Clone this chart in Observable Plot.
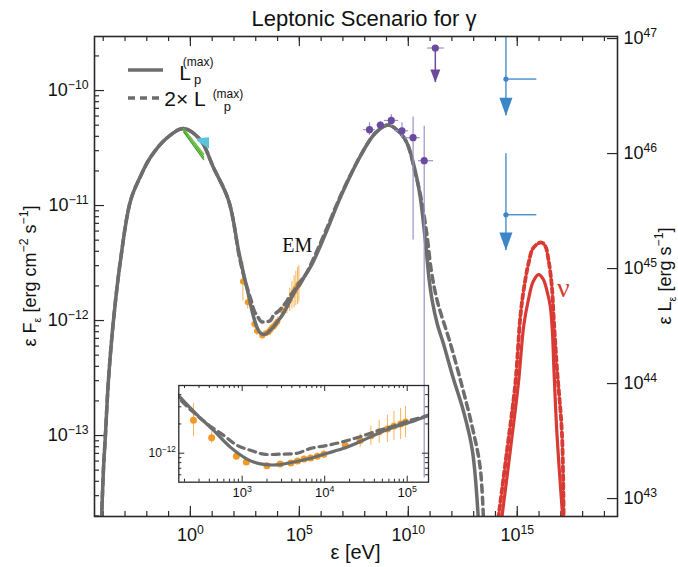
<!DOCTYPE html>
<html><head><meta charset="utf-8">
<script src="https://cdn.jsdelivr.net/npm/d3@7"></script>
<script src="https://cdn.jsdelivr.net/npm/@observablehq/plot@0.6"></script>
<style>body{margin:0;background:#fff}</style>
</head><body><div id="chart"></div>
<script>
// ---------- DATA (log10 values) ----------
// EM cascade model, L_p^(max) (solid): log10 ε [eV], log10 εFε [erg cm^-2 s^-1]
const emLogE = [-4.10,-3.99,-3.90,-3.76,-3.53,-3.21,-2.75,-2.30,-1.83,-1.06,-0.32,0.46,1.06,1.76,2.22,2.46,2.66,2.86,3.06,3.22,3.42,3.63,3.79,4.03,4.23,4.43,4.64,4.84,5.04,5.26,5.58,6.19,6.88,7.80,8.49,9.08,9.63,9.95,10.32,10.55,10.78,10.96,11.10,11.33,11.61,12.06,12.52,12.94,13.25];
const emLogF = [-13.85,-13.30,-13.00,-12.52,-12.00,-11.48,-10.96,-10.75,-10.58,-10.41,-10.33,-10.43,-10.67,-10.96,-11.40,-11.61,-11.77,-11.94,-12.06,-12.11,-12.12,-12.09,-12.06,-12.00,-11.95,-11.88,-11.80,-11.73,-11.68,-11.61,-11.51,-11.25,-10.93,-10.57,-10.37,-10.30,-10.37,-10.46,-10.70,-10.93,-11.30,-11.65,-11.83,-12.03,-12.20,-12.50,-12.78,-13.13,-13.85];
// EM cascade model, 2× L_p^(max) (dashed)
const em2LogE = [-4.10,-3.99,-3.90,-3.76,-3.53,-3.21,-2.75,-2.30,-1.83,-1.06,-0.32,0.46,1.06,1.76,2.25,2.41,2.58,2.78,2.94,3.10,3.26,3.46,3.67,3.83,4.03,4.23,4.43,4.64,4.84,5.04,5.26,5.58,6.19,6.88,7.80,8.49,9.08,9.63,9.95,10.32,10.55,10.83,11.06,11.33,11.93,12.48,12.94,13.30,13.47];
const em2LogF = [-13.85,-13.30,-13.00,-12.52,-12.00,-11.48,-10.96,-10.75,-10.58,-10.41,-10.33,-10.43,-10.67,-10.96,-11.45,-11.58,-11.70,-11.82,-11.92,-11.97,-12.01,-12.01,-12.00,-11.95,-11.92,-11.88,-11.83,-11.77,-11.72,-11.66,-11.61,-11.49,-11.23,-10.92,-10.57,-10.37,-10.30,-10.37,-10.46,-10.72,-10.90,-11.22,-11.57,-11.83,-12.20,-12.58,-12.93,-13.28,-13.85];
// neutrino spectra
const nuLogE = [14.29,14.68,15.05,15.30,15.50,15.73,15.98,16.19,16.36,16.51,16.61,16.68,16.82,17.09];
const nuLogF = [-13.72,-13.13,-12.55,-12.04,-11.83,-11.66,-11.60,-11.64,-11.74,-11.87,-12.09,-12.41,-12.98,-13.72];
const nu2LogE = [14.13,14.53,14.91,15.14,15.29,15.52,15.73,16.09,16.28,16.44,16.59,16.67,16.82,17.05,17.13];
const nu2LogF = [-13.72,-13.13,-12.55,-11.97,-11.74,-11.50,-11.37,-11.32,-11.35,-11.48,-11.71,-11.97,-12.41,-12.98,-13.72];
// X-ray data (orange)
const xrayLogE = [2.41,2.63,2.93,3.05,3.30,3.46,3.59,3.67,3.75,3.83,3.91,3.99,4.25,4.43,4.56,4.66,4.76,4.84,4.92,4.98];
const xrayLogF = [-11.66,-11.84,-12.03,-12.09,-12.13,-12.11,-12.10,-12.08,-12.06,-12.05,-12.03,-12.01,-11.92,-11.87,-11.82,-11.78,-11.75,-11.72,-11.70,-11.68];
const xrayErr  = [0.17,0.06,0.04,0.04,0.02,0.02,0.02,0.02,0.03,0.03,0.03,0.04,0.05,0.07,0.10,0.12,0.14,0.15,0.16,0.16];
// gamma-ray data (purple)
const latLogE = [8.22,8.72,9.22,9.71,10.22,10.73];
const latLogF = [-10.34,-10.30,-10.26,-10.35,-10.41,-10.61];
const latElo  = [7.94,8.56,8.90,9.40,9.86,10.47];
const latEhi  = [8.49,8.94,9.56,10.01,10.55,11.16];
const latFlo  = [-10.39,-10.33,-10.31,-10.41,-11.30,-13.37];
const latFhi  = [-10.28,-10.27,-10.21,-10.28,-10.23,-10.31];
const ulLogE = [11.24], ulLogF = [-9.63], ulElo = [10.89], ulEhi = [11.65], ulTip = [-9.93];
// blue upper limits (solid, dashed)
const blueLogE = [14.48,14.48], blueLogF = [-9.90,-11.08], blueEhi = [15.90,15.90];
const blueTop = [-9.40,-10.55], blueTip = [-10.22,-11.39];
// optical / UV
const optLogE = [-0.31,0.61];
const optLines = [[-10.33,-10.55],[-10.34,-10.58],[-10.35,-10.56],[-10.36,-10.60]];
const uvLogE = [0.33,0.88], uvLo = [-10.44,-10.51], uvHi = [-10.42,-10.41];
// tick exponents
const xMajor = [0,5,10,15];
const xDecades = d3.range(-4,20);
const yMajor = [-13,-12,-11,-10];
const rMajor = [43,44,45,46,47];
const R_OFFSET = 56.548; // log10(εLε) - log10(εFε)
const insetXMajor = [3,4,5];
const insetYMajor = [-12];
const labels = [{e:4.90,f:-11.35,t:"EM"}];
const nuLabel = [{e:17.11,f:-11.72,t:"ν"}];

// ---------- helpers ----------
const P = v => 10 ** v;
const FONT = "'Liberation Sans', Arial, Helvetica, sans-serif";
const SERIF = "'Liberation Serif', 'Times New Roman', serif";
const GRAY="#6d6d6d", RED="#d83a34", ORANGE="#f39a26", ORANGE_L="#f6b35c",
      PURPLE="#6a4b9d", PURPLE_L="#9e8fcb", BLUE="#3a86c8", FR="#2a2a2a";
const pts = (E,F) => E.map((e,i)=>({x:P(e), y:P(F[i])}));
const arrowSym = (w,h) => ({draw(ctx){ctx.moveTo(-w/2,-h);ctx.lineTo(w/2,-h);ctx.lineTo(0,0);ctx.closePath();}});
const expFmt = d => "10^" + Math.round(Math.log10(d));

const em = pts(emLogE, emLogF), em2 = pts(em2LogE, em2LogF);
const nu = pts(nuLogE, nuLogF), nu2 = pts(nu2LogE, nu2LogF);
const xray = xrayLogE.map((e,i)=>({x:P(e), y:P(xrayLogF[i]), y1:P(xrayLogF[i]-xrayErr[i]), y2:P(xrayLogF[i]+xrayErr[i])}));
const lat = latLogE.map((e,i)=>({x:P(e), y:P(latLogF[i]), x1:P(latElo[i]), x2:P(latEhi[i]), y1:P(latFlo[i]), y2:P(latFhi[i])}));
const ul = ulLogE.map((e,i)=>({x:P(e), y:P(ulLogF[i]), x1:P(ulElo[i]), x2:P(ulEhi[i]), tip:P(ulTip[i])}));
const blue = blueLogE.map((e,i)=>({x:P(e), y:P(blueLogF[i]), x2:P(blueEhi[i]), top:P(blueTop[i]), tip:P(blueTip[i]), dashed:i===1}));
const opt = optLines.flatMap((l,k)=>optLogE.map((e,i)=>({x:P(e), y:P(l[i]), k})));
const uv = uvLogE.map((e,i)=>({x:P(e), y1:P(uvLo[i]), y2:P(uvHi[i])}));

const W=678, H=567, mL=94, mR=61, mT=36, mB=51;
const FW=W-mL-mR, FH=H-mT-mB;
const yMinor = d3.range(-14,-9).flatMap(d=>d3.range(2,10).map(k=>k*P(d))).filter(v=>v>P(-13.704)&&v<P(-9.53));

const main = Plot.plot({
  width:W, height:H, marginLeft:mL, marginRight:mR, marginTop:mT, marginBottom:mB,
  style:{fontFamily:FONT, fontSize:"18px", background:"white", color:"#111"},
  x:{type:"log", domain:[P(-4.4),P(19.6)], axis:null},
  y:{type:"log", domain:[P(-13.704),P(-9.53)], axis:null},
  marks:[
    // ticks (inward)
    Plot.tickX(xDecades.map(P), {x:d=>d, insetTop:FH-5, stroke:FR, strokeWidth:1.2}),
    Plot.tickX(xDecades.map(P), {x:d=>d, insetBottom:FH-5, stroke:FR, strokeWidth:1.2}),
    Plot.tickX(xMajor.map(P), {x:d=>d, insetTop:FH-10, stroke:FR, strokeWidth:1.2}),
    Plot.tickX(xMajor.map(P), {x:d=>d, insetBottom:FH-10, stroke:FR, strokeWidth:1.2}),
    Plot.tickY(yMinor, {y:d=>d, insetRight:FW-5, stroke:FR, strokeWidth:1.2}),
    Plot.tickY(yMajor.map(P), {y:d=>d, insetRight:FW-10, stroke:FR, strokeWidth:1.2}),
    Plot.tickY(rMajor.map(e=>P(e-R_OFFSET)), {y:d=>d, insetLeft:FW-10, stroke:FR, strokeWidth:1.2}),
    Plot.axisX({ticks:xMajor.map(P), tickSize:0, tickPadding:12, tickFormat:expFmt, label:null}),
    Plot.axisY({anchor:"left", ticks:yMajor.map(P), tickSize:0, tickPadding:6, tickFormat:expFmt, label:null}),
    Plot.text(rMajor, {y:e=>P(e-R_OFFSET), text:e=>"10^"+e, frameAnchor:"right", textAnchor:"start", dx:6, fill:"#111"}),
    // X-ray data
    Plot.ruleX(xray, {x:"x", y1:"y1", y2:"y2", stroke:ORANGE_L, strokeWidth:1}),
    Plot.dot(xray, {x:"x", y:"y", r:3, fill:ORANGE}),
    // models
    Plot.line(em2, {x:"x", y:"y", stroke:GRAY, strokeWidth:3.5, strokeDasharray:"7,5", curve:"catmull-rom", clip:true}),
    Plot.line(em, {x:"x", y:"y", stroke:GRAY, strokeWidth:3.5, curve:"catmull-rom", clip:true}),
    Plot.line(nu2, {x:"x", y:"y", stroke:RED, strokeWidth:3.8, strokeDasharray:"5,3.5", curve:"catmull-rom", clip:true}),
    Plot.line(nu, {x:"x", y:"y", stroke:RED, strokeWidth:3.2, curve:"catmull-rom", clip:true}),
    // optical / UV
    Plot.areaY(uv, {x:"x", y1:"y1", y2:"y2", fill:"#5cc3dc"}),
    Plot.line(opt, {x:"x", y:"y", z:"k", stroke:d=>d.k%2?"#3f9a22":"#6cc040", strokeWidth:1.2}),
    // gamma-ray data
    Plot.ruleX(lat, {x:"x", y1:"y1", y2:"y2", stroke:PURPLE_L, strokeWidth:1.2, clip:true}),
    Plot.ruleY(lat, {y:"y", x1:"x1", x2:"x2", stroke:PURPLE_L, strokeWidth:1.2}),
    Plot.dot(lat, {x:"x", y:"y", r:3.6, fill:PURPLE}),
    Plot.ruleY(ul, {y:"y", x1:"x1", x2:"x2", stroke:PURPLE_L, strokeWidth:1.2}),
    Plot.ruleX(ul, {x:"x", y1:"y", y2:"tip", stroke:PURPLE, strokeWidth:1.5}),
    Plot.dot(ul, {x:"x", y:"y", r:3.6, fill:PURPLE}),
    Plot.dot(ul, {x:"x", y:"tip", symbol:arrowSym(10,13), fill:PURPLE, stroke:"none"}),
    // blue upper limits
    Plot.ruleX(blue, {x:"x", y1:"top", y2:"tip", stroke:BLUE, strokeWidth:1.3, strokeDasharray:d=>d.dashed?"7,6":null, clip:true}),
    Plot.ruleY(blue, {y:"y", x1:"x", x2:"x2", stroke:BLUE, strokeWidth:1.3, strokeDasharray:d=>d.dashed?"7,6":null}),
    Plot.dot(blue, {x:"x", y:"y", r:2.6, fill:BLUE}),
    Plot.dot(blue, {x:"x", y:"tip", symbol:arrowSym(13,18), fill:BLUE, stroke:"none"}),
    // labels
    Plot.text(labels, {x:d=>P(d.e), y:d=>P(d.f), text:"t", fontFamily:SERIF, fontSize:20, fill:"#111"}),
    Plot.text(nuLabel, {x:d=>P(d.e), y:d=>P(d.f), text:"t", fontFamily:SERIF, fontSize:28, fill:RED}),
    Plot.frame({stroke:FR, strokeWidth:1.6})
  ]
});

// ---------- inset ----------
const iW=300, iH=130, iL=40.3, iR=10, iT=10, iB=23.3;
const iFW=iW-iL-iR, iFH=iH-iT-iB;
const ixDom=[P(2.232),P(5.258)], iyDom=[P(-12.298),P(-11.304)];
const ixMinor = d3.range(2,6).flatMap(d=>d3.range(2,10).map(k=>k*P(d))).filter(v=>v>ixDom[0]&&v<ixDom[1]);
const iyMinor = d3.range(-13,-11).flatMap(d=>d3.range(2,10).map(k=>k*P(d))).filter(v=>v>iyDom[0]&&v<iyDom[1]);
const inset = Plot.plot({
  width:iW, height:iH, marginLeft:iL, marginRight:iR, marginTop:iT, marginBottom:iB,
  style:{fontFamily:FONT, fontSize:"13px", background:"transparent", overflow:"visible",
         width:iW+"px", height:iH+"px", maxWidth:"none", color:"#111"},
  x:{type:"log", domain:ixDom, axis:null},
  y:{type:"log", domain:iyDom, axis:null},
  marks:[
    Plot.tickX(ixMinor, {x:d=>d, insetTop:iFH-3, stroke:FR}),
    Plot.tickX(ixMinor, {x:d=>d, insetBottom:iFH-3, stroke:FR}),
    Plot.tickX(insetXMajor.map(P), {x:d=>d, insetTop:iFH-6, stroke:FR}),
    Plot.tickX(insetXMajor.map(P), {x:d=>d, insetBottom:iFH-6, stroke:FR}),
    Plot.tickY(iyMinor, {y:d=>d, insetRight:iFW-3, stroke:FR}),
    Plot.tickY(iyMinor, {y:d=>d, insetLeft:iFW-3, stroke:FR}),
    Plot.tickY(insetYMajor.map(P), {y:d=>d, insetRight:iFW-6, stroke:FR}),
    Plot.tickY(insetYMajor.map(P), {y:d=>d, insetLeft:iFW-6, stroke:FR}),
    Plot.axisX({ticks:insetXMajor.map(P), tickSize:0, tickPadding:6, tickFormat:expFmt, label:null}),
    Plot.axisY({anchor:"left", ticks:insetYMajor.map(P), tickSize:0, tickPadding:3, tickFormat:expFmt, label:null, fontSize:12}),
    Plot.ruleX(xray, {x:"x", y1:"y1", y2:"y2", stroke:ORANGE_L, strokeWidth:1, clip:true}),
    Plot.dot(xray, {x:"x", y:"y", r:3.5, fill:ORANGE, clip:true}),
    Plot.line(em2, {x:"x", y:"y", stroke:GRAY, strokeWidth:3.2, strokeDasharray:"7,5", curve:"catmull-rom", clip:true}),
    Plot.line(em, {x:"x", y:"y", stroke:GRAY, strokeWidth:3.2, curve:"catmull-rom", clip:true}),
    Plot.frame({stroke:FR, strokeWidth:1.3})
  ]
});
d3.select(inset).attr("x",138).attr("y",375);
main.appendChild(inset);
document.getElementById("chart").appendChild(main);

// ---------- superscripts in tick labels ----------
function supify(svg){
  d3.select(svg).selectAll("text").each(function(){
    if (this.querySelector("tspan")) return;
    const m = /^(.*?)\^(.+)$/.exec(this.textContent);
    if (!m) return;
    const t = d3.select(this);
    t.text(m[1]);
    t.append("tspan").attr("dy","-0.62em").attr("font-size","0.68em").text(m[2].replace("-","−"));
  });
}
supify(main);

// ---------- rich text helper ----------
function rich(sel, parts, size){
  let cur = 0;
  parts.forEach(p=>{
    const target = p.sub ? size*0.28 : p.sup ? -size*0.42 : 0;
    const ts = sel.append("tspan").text(p.t);
    if (target !== cur) ts.attr("dy", (target-cur).toFixed(2));
    if (p.sub || p.sup) ts.attr("font-size", (size*(p.sub?0.62:0.68)).toFixed(1));
    cur = target;
  });
}
const svg = d3.select(main);
const g = svg.append("g").attr("font-family", FONT).attr("fill","#111");
// title
g.append("text").attr("x",364).attr("y",26).attr("text-anchor","middle").attr("font-size",22).text("Leptonic Scenario for γ");
// x label
g.append("text").attr("x",355.5).attr("y",559).attr("text-anchor","middle").attr("font-size",20).text("ε [eV]");
// left y label
rich(g.append("text").attr("transform","translate(36,276) rotate(-90)").attr("text-anchor","middle").attr("font-size",18),
  [{t:"ε F"},{t:"ε",sub:true},{t:" [erg cm"},{t:"−2",sup:true},{t:" s"},{t:"−1",sup:true},{t:"]"}], 18);
// right y label
rich(g.append("text").attr("transform","translate(671,276) rotate(-90)").attr("text-anchor","middle").attr("font-size",18),
  [{t:"ε L"},{t:"ε",sub:true},{t:" [erg s"},{t:"−1",sup:true},{t:"]"}], 18);
// legend: each entry is one text with positioned tspans
const lg = g.append("g");
lg.append("line").attr("x1",128).attr("x2",163).attr("y1",70).attr("y2",70).attr("stroke",GRAY).attr("stroke-width",3.5);
lg.append("line").attr("x1",128).attr("x2",163).attr("y1",98).attr("y2",98).attr("stroke",GRAY).attr("stroke-width",3.5).attr("stroke-dasharray","7,5");
function legendEntry(x, y, prefix, subDy, supRaise){
  const t = lg.append("text").attr("x",x).attr("y",y).attr("font-size",21);
  t.append("tspan").text(prefix);
  const w = t.node().getComputedTextLength();
  t.append("tspan").attr("x",x+w+1).attr("dy",subDy).attr("font-size",13).text("p");
  t.append("tspan").attr("x",x+w+1.5).attr("dy",-(subDy+supRaise)).attr("font-size",12).text("(max)");
}
legendEntry(185,80,"L",3.5,14);
legendEntry(185,105.5,"2× L",5,7.5);
</script></body></html>
